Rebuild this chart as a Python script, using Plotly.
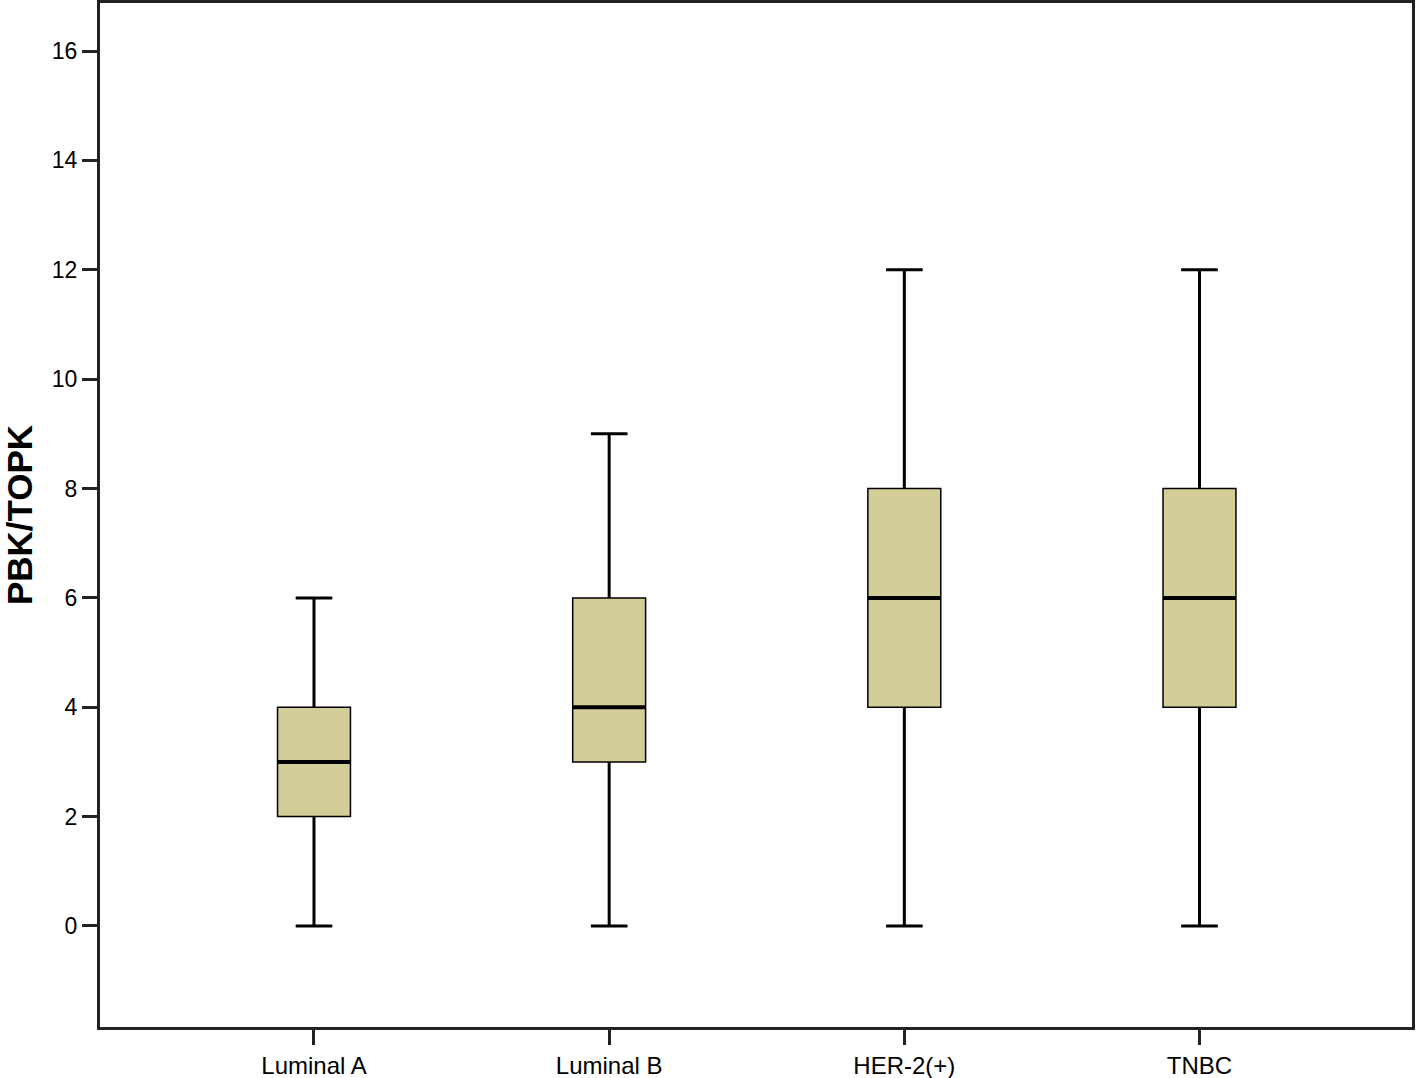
import plotly.graph_objects as go

categories = ["Luminal A", "Luminal B", "HER-2(+)", "TNBC"]
q1 = [2, 3, 4, 4]
median = [3, 4, 6, 6]
q3 = [4, 6, 8, 8]
lower = [0, 0, 0, 0]
upper = [6, 9, 12, 12]
y_ticks = [0, 2, 4, 6, 8, 10, 12, 14, 16]

pos = list(range(len(categories)))
box_w = 0.247
cap_w = box_w / 2

fig = go.Figure()
fig.add_trace(go.Box(
    x=pos, q1=q1, median=median, q3=q3, lowerfence=lower, upperfence=upper,
    width=box_w, whiskerwidth=0.5,
    fillcolor="rgb(211,206,152)",
    line=dict(color="black", width=1.5),
    hoverinfo="skip", showlegend=False,
))

# thicker whiskers and caps
wx, wy = [], []
for p, a, b, c, d in zip(pos, lower, q1, q3, upper):
    wx += [p, p, None, p, p, None, p - cap_w / 2, p + cap_w / 2, None, p - cap_w / 2, p + cap_w / 2, None]
    wy += [a, b, None, c, d, None, a, a, None, d, d, None]
fig.add_trace(go.Scatter(x=wx, y=wy, mode="lines", line=dict(color="black", width=3),
                         hoverinfo="skip", showlegend=False))

# thick median lines
mx, my = [], []
for p, m in zip(pos, median):
    mx += [p - box_w / 2, p + box_w / 2, None]
    my += [m, m, None]
fig.add_trace(go.Scatter(x=mx, y=my, mode="lines", line=dict(color="black", width=4),
                         hoverinfo="skip", showlegend=False))

font = "Liberation Sans, Arial, sans-serif"
fig.update_layout(
    width=1416, height=1078,
    margin=dict(l=100, r=4, t=3, b=51, autoexpand=False),
    paper_bgcolor="white", plot_bgcolor="white",
    font=dict(family=font, color="black", size=22),
    xaxis=dict(
        range=[-0.725, 3.72], tickvals=pos, ticktext=categories,
        showgrid=False, zeroline=False,
        showline=True, linecolor="#222", linewidth=3, mirror=True,
        ticks="outside", ticklen=15, tickwidth=3, tickcolor="#222",
        tickfont=dict(size=24, family=font),
    ),
    yaxis=dict(
        range=[-1.847, 16.878], tickvals=y_ticks,
        showgrid=False, zeroline=False,
        showline=True, linecolor="#222", linewidth=3, mirror=True,
        ticks="outside", ticklen=15, tickwidth=3, tickcolor="#222",
        tickfont=dict(size=23, family=font),
        title=dict(text="<b>PBK/TOPK</b>", font=dict(size=35, family=font), standoff=18),
    ),
)

fig.write_html("out.html", config={"displayModeBar": False},
               post_script="document.body.style.margin='0';document.body.style.overflow='hidden';")
